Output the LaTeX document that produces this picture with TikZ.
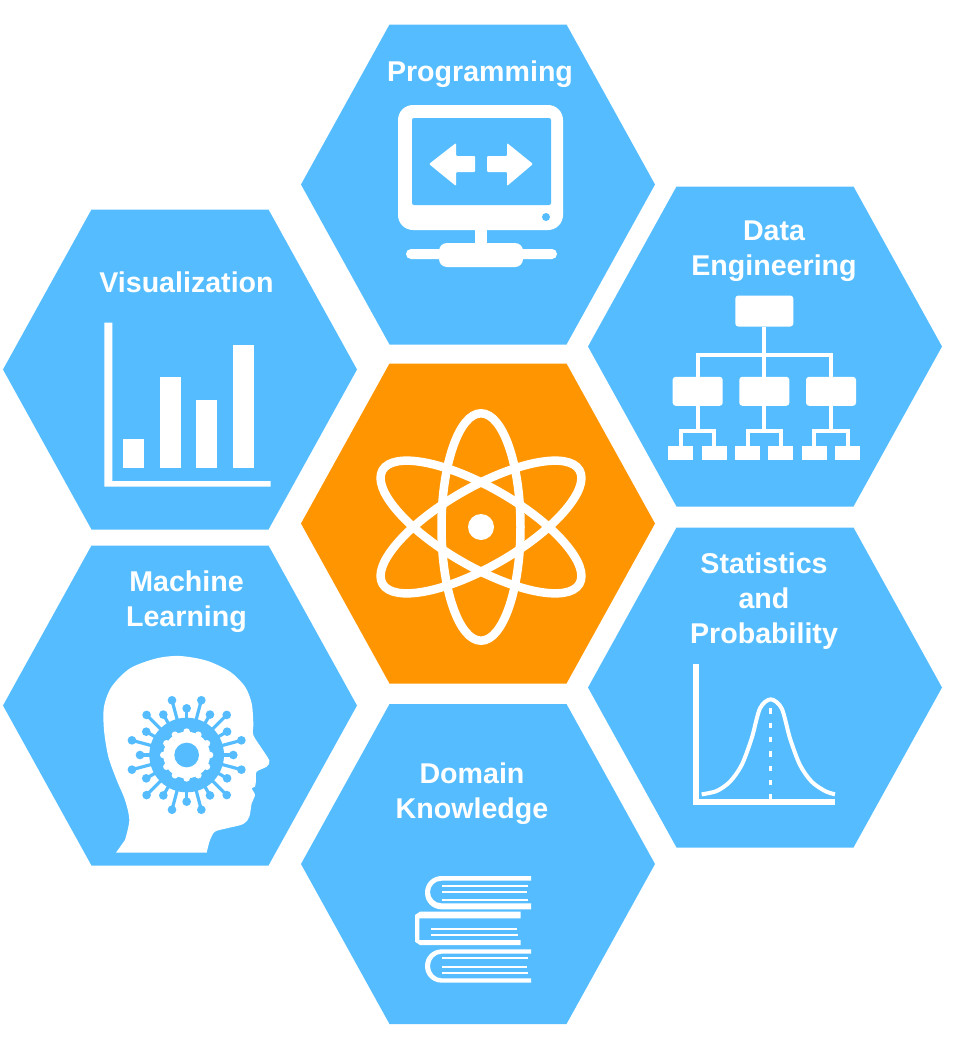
\documentclass[tikz,border=0pt]{standalone}
\usepackage{fontspec}
\setmainfont{Liberation Sans}
\usetikzlibrary{arrows.meta,positioning,calc}
\definecolor{Sky}{HTML}{55BDFF}
\definecolor{Core}{HTML}{FF9500}
\tikzset{
 cell/.style={fill=Sky},
 hub/.style={fill=Core},
 label/.style={text=white,align=center,inner sep=0pt,font=\fontsize{28.6}{35}\selectfont\bfseries},
 icon/.style={fill=white,draw=none},
 hole/.style={fill=Sky,draw=none},
 thin bar/.style={draw=white,line width=2.1pt},
 orbit/.style={draw=white,line width=8.5pt},
 axis/.style={draw=white,line width=6pt},
 orgbox/.style={fill=white,rounded corners=3pt,inner sep=0pt,text width=0pt},
 orgline/.style={draw=white,line width=4pt}
}
\begin{document}
\begin{tikzpicture}[x=1pt,y=-1pt]
\useasboundingbox (0,0) rectangle (956,1047);
% Honeycomb: six outer cells and the middle one.
\foreach \cx/\cy/\look in {478/184.5/cell,180/369.5/cell,765/346.5/cell,478/523.5/hub,180/705.5/cell,765/687.5/cell,478/864/cell} {
 \fill[\look] (\cx,\cy) ++(-177,0) -- ++(88.5,-160) -- ++(177,0) -- ++(88.5,160) -- ++(-88.5,160) -- ++(-177,0) -- cycle;
}
\node[label] (programming) at (480,74) {Programming};
\node[label] (visualization) at (186.5,282.5) {Visualization};
\node[label] (engineering) at (774,251) {Data\\Engineering};
\node[label] (statistics) at (764,601) {Statistics\\and\\Probability};
\node[label] (learning) at (186.5,601.5) {Machine\\Learning};
\node[label] (domain) at (472,793.5) {Domain\\Knowledge};
% Atom in the middle cell.
\foreach \a in {0,60,-60} {
 \draw[orbit,rotate around={\a:(481,527)}] (481,527) ellipse [x radius=39.5,y radius=113.7];
}
\fill[icon] (481,527) circle (13);
% Monitor.
\fill[icon,rounded corners=15pt] (398,105) rectangle (563,230);
\fill[hole,rounded corners=2pt] (412,118) rectangle (551,205);
\fill[hole] (546,217) circle (4);
\fill[icon] (475,228) rectangle (487,246);
\fill[icon,rounded corners=5pt] (406,249) rectangle (557,259);
\fill[icon,rounded corners=8pt] (439,243) rectangle (523,267);
\fill[icon,rounded corners=1pt] (429,164) -- (456,143) -- (456,156) -- (475,156) -- (475,172) -- (456,172) -- (456,186) -- cycle;
\fill[icon,rounded corners=1pt] (533,164) -- (507,143) -- (507,156) -- (487,156) -- (487,172) -- (507,172) -- (507,186) -- cycle;
% Bar chart.
\fill[icon] (104.3,322.7) -- (112.3,322.7) -- (112.3,481) -- (270.7,481) -- (270.7,486.7) -- (104.3,486.7) -- cycle;
\foreach \left/\top in {122.7/439.3,160.3/377,196/400,233.3/345.3} {
 \fill[icon] (\left,\top) rectangle (\left+21,467.7);
}
% Org chart.
\node[orgbox,minimum width=58pt,minimum height=31pt] (root) at (764.3,311) {};
\foreach \i/\x in {1/697.7,2/764.3,3/831} {
 \node[orgbox,minimum width=50pt,minimum height=29pt] (mid\i) at (\x,391.3) {};
 \node[orgbox,rounded corners=0pt,minimum width=25pt,minimum height=14.5pt] (leaf\i a) at (\x-16.8,453) {};
 \node[orgbox,rounded corners=0pt,minimum width=25pt,minimum height=14.5pt] (leaf\i b) at (\x+16.5,453) {};
 \draw[orgline] (mid\i.south) -- ++(0,24.5) coordinate (fork\i);
 \draw[orgline] (leaf\i a.north) |- (fork\i) -| (leaf\i b.north);
 \draw[orgline] (root.south) -- ++(0,28) -| (mid\i.north);
}
% Bell curve.
\begin{scope}[shift={(680,650)},scale=1/3]
 \draw[axis] (49,42) -- (49,456.5) -- (465,456.5);
 \draw[draw=white,line width=4pt] plot[smooth] coordinates {(65,433) (110,423) (150,395) (185,345) (215,265) (240,175) (272,148) (305,175) (330,265) (360,345) (395,395) (435,423) (465,433)};
 \draw[draw=white,line width=3.2pt,dash pattern=on 5.3pt off 9pt] (272,175) -- (272,450);
\end{scope}
% Head with the gear.
\begin{scope}[shift={(80,640)},scale=1/3]
 \fill[icon] (108,638) -- plot[smooth] coordinates {(135,600) (148,540) (135,480) (110,420) (85,350) (72,270) (72,200) (95,140) (150,85) (230,55) (300,48) (380,62) (450,95) (495,140) (515,190) (520,250) (520,285) (545,325) (568,362) (560,380) (530,395) (528,420) (525,440) (515,445) (525,465) (515,490) (508,530) (490,552) (440,565) (405,575) (390,600) (380,638)} -- cycle;
 \fill[hole] (320,345) circle (112);
 \foreach \a in {0,30,...,330} {
  \draw[draw=Sky,line width=3.2pt] (320,345) -- ++(\a:140);
  \fill[hole] (320,345) ++(\a:140) circle (13);
  \draw[draw=Sky,line width=3.2pt] (320,345) -- ++(\a+15:170);
  \fill[hole] (320,345) ++(\a+15:170) circle (13);
 }
 \foreach \a in {0,30,...,330} {
  \fill[icon] (320,345) ++(\a:70) circle (10);
 }
 \fill[icon] (320,345) circle (70);
 \fill[hole] (320,345) circle (37);
\end{scope}
% Stack of books.
\begin{scope}[shift={(400,860)},scale=1/3]
 \fill[icon] (393,48) -- (125,48) .. controls (97,48) and (75,70) .. (75,98) .. controls (75,126) and (97,148) .. (125,148) -- (393,148) -- (393,130) -- (125,130) .. controls (105,130) and (90,115) .. (90,96) .. controls (90,77) and (105,62) .. (125,62) -- (393,62) -- cycle;
 \fill[icon] (393,268) -- (125,268) .. controls (97,268) and (75,290) .. (75,318) .. controls (75,346) and (97,368) .. (125,368) -- (393,368) -- (393,355) -- (125,355) .. controls (105,355) and (90,338) .. (90,318) .. controls (90,298) and (105,281) .. (125,281) -- (393,281) -- cycle;
 \fill[icon] (362,155) -- (60,155) -- (45,165) -- (45,245) -- (60,255) -- (362,255) -- (362,240) -- (58,240) -- (58,175) -- (362,175) -- cycle;
 \foreach \y/\xa/\xb in {77/125/385,96/125/380,120/125/385,208/93/350,226/93/355,295/125/385,320/125/380,340/125/385} {
  \draw[thin bar] (\xa,\y) -- (\xb,\y);
 }
\end{scope}
\end{tikzpicture}
\end{document}
